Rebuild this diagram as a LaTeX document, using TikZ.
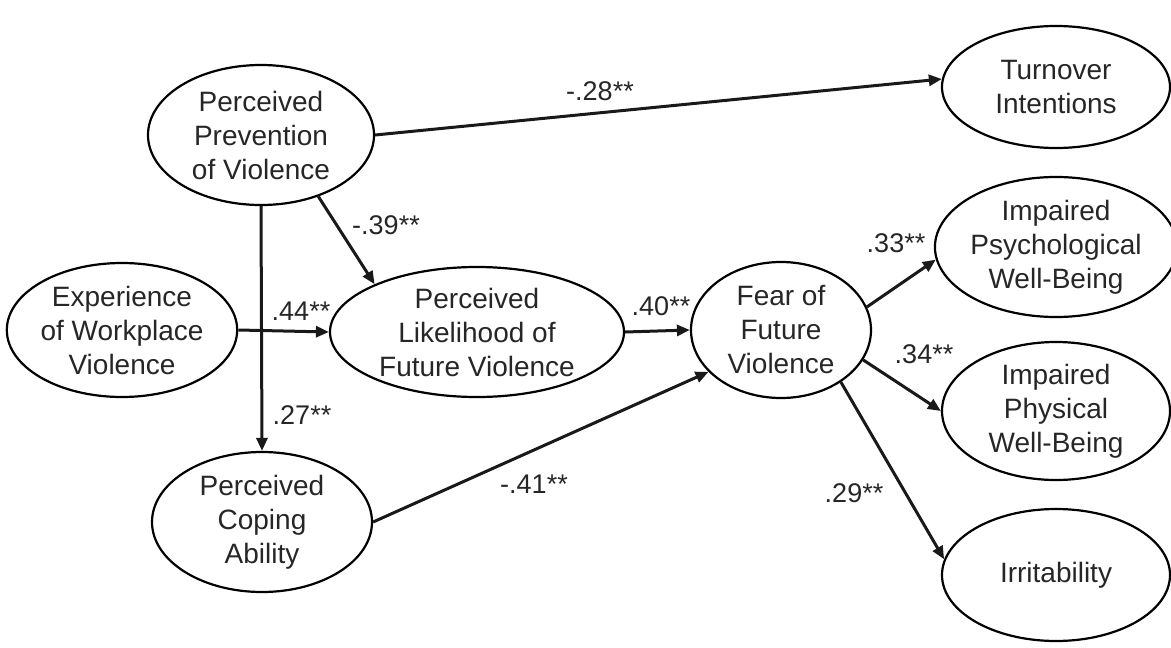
\documentclass[tikz,border=0pt]{standalone}
\usepackage{fontspec}
\setmainfont{Liberation Sans}
\usetikzlibrary{arrows.meta,shapes.geometric}
\tikzset{
  pth/.style={-{Triangle[length=13pt,width=11pt]},line width=3pt,black!90},
  coef/.style={font=\fontsize{27}{32}\selectfont,text=black!85,inner sep=0pt}
}

\begin{document}
\begin{tikzpicture}[x=1pt,y=-1pt,
  lv/.style={draw,ellipse,line width=2.2pt,inner sep=0pt,align=center,
    font=\fontsize{28}{34}\selectfont,text=black!85},
  lvr/.style={lv,minimum width=228pt,minimum height=136pt}]
\useasboundingbox (0,0) rectangle (1171,648);
% latent variables
\node[lv,minimum width=226pt,minimum height=140pt] (Prev) at (261,135) {Perceived\\Prevention\\of Violence};
\node[lv,minimum width=222pt,minimum height=134pt] (Exp) at (122,330) {Experience\\of Workplace\\Violence};
\node[lv,minimum width=294pt,minimum height=130pt] (Lik) at (477,332) {Perceived\\Likelihood of\\Future Violence};
\node[lv,minimum width=220pt,minimum height=140pt] (Cope) at (262,522) {Perceived\\Coping\\Ability};
\node[lv,minimum width=180pt,minimum height=136pt] (Fear) at (781,330) {Fear of\\Future\\Violence};
\node[lvr,minimum height=122pt] (Turn) at (1056,87) {Turnover\\Intentions};
\node[lvr,minimum height=140pt] (Psych) at (1056,247) {Impaired\\Psychological\\Well-Being};
\node[lvr,minimum height=138pt] (Phys) at (1056,411) {Impaired\\Physical\\Well-Being};
\node[lvr,minimum height=132pt] (Irr) at (1056,575) {Irritability};
% paths
\draw[pth] (Prev.east) -- (Turn.176);
\draw[pth] (Prev.-47) -- (Lik.155);
\draw[pth] (Prev.south) -- (Cope.north);
\draw[pth] (Exp.east) -- (Lik.west);
\draw[pth] (Lik.east) -- (Fear.west);
\draw[pth] (Cope.east) -- (Fear.-150);
\draw[pth] (Fear.15) -- (Psych.-174);
\draw[pth] (Fear.-20) -- (Phys.west);
\draw[pth] (Fear.-41) -- (Irr.172);
% coefficients
\node[coef] (c28) at (600,91) {-.28**};
\node[coef] (c39) at (386,225) {-.39**};
\node[coef] (c44) at (301,311) {.44**};
\node[coef] (c27) at (302,415) {.27**};
\node[coef] (c40) at (661,306) {.40**};
\node[coef] (c41) at (534,484) {-.41**};
\node[coef] (c33) at (896,243) {.33**};
\node[coef] (c34) at (924,354) {.34**};
\node[coef] (c29) at (854,493) {.29**};
\end{tikzpicture}
\end{document}
